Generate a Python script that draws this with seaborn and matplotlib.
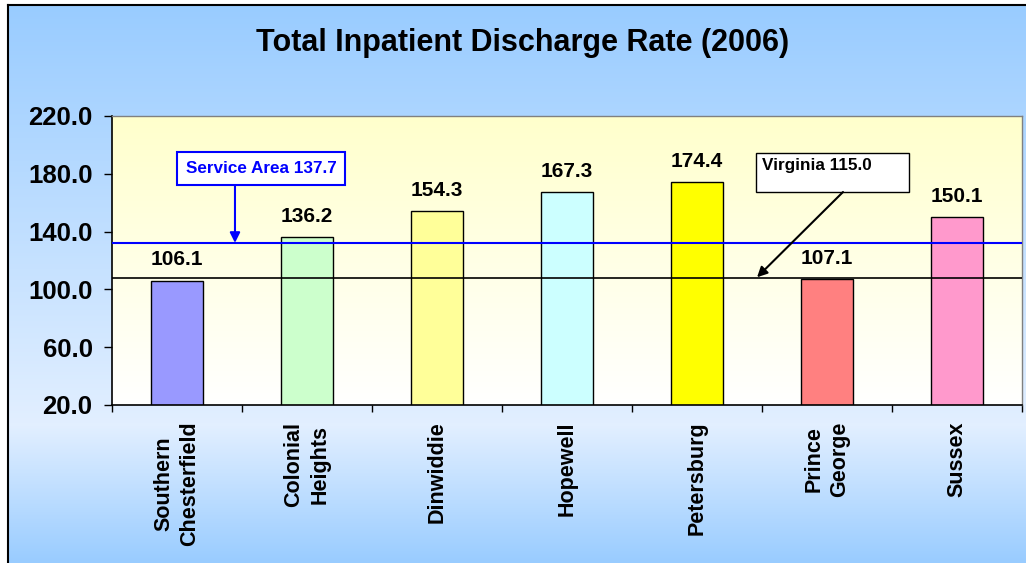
import numpy as np
import matplotlib
matplotlib.use('Agg')
import matplotlib.pyplot as plt
import seaborn as sns
from matplotlib.colors import LinearSegmentedColormap
from matplotlib.patches import Rectangle

categories = ['Southern\nChesterfield', 'Colonial\nHeights', 'Dinwiddie', 'Hopewell',
              'Petersburg', 'Prince\nGeorge', 'Sussex']
rates = [106.1, 136.2, 154.3, 167.3, 174.4, 107.1, 150.1]
bar_colors = ['#9999FF', '#CCFFCC', '#FFFF99', '#CCFFFF', '#FFFF00', '#FF8080', '#FF99CC']
y_ticks = [20, 60, 100, 140, 180, 220]

# reference lines sit where the picture draws them, labels keep the printed values
service_area_line = 132.2
service_area_label = 'Service Area 137.7'
virginia_line = 108.0
virginia_label = 'Virginia 115.0'
title = 'Total Inpatient Discharge Rate (2006)'


def main():
    sns.set_theme(style='white')
    plt.rcParams['font.family'] = ['Liberation Sans', 'DejaVu Sans']
    plt.rcParams['font.weight'] = 'bold'
    plt.rcParams['text.color'] = 'black'
    plt.rcParams['xtick.color'] = 'black'
    plt.rcParams['ytick.color'] = 'black'
    plt.rcParams['axes.labelcolor'] = 'black'

    fig = plt.figure(figsize=(10.26, 5.63), dpi=100)
    fig.patch.set_facecolor('white')

    # blue gradient backdrop with border on left/top
    bg = fig.add_axes([8 / 1026, 0, 1 - 8 / 1026, 1 - 5 / 563], zorder=-5)
    shade = np.concatenate([np.linspace(0, 1, 420), np.linspace(1, 0, 138)])
    bg_cmap = LinearSegmentedColormap.from_list('bg', ['#99CCFF', '#E2EFFF'])
    bg.imshow(shade[:, None], aspect='auto', cmap=bg_cmap, extent=[0, 1, 0, 1])
    bg.set_xticks([])
    bg.set_yticks([])
    bg.spines['right'].set_visible(False)
    bg.spines['bottom'].set_visible(False)
    bg.spines['left'].set_color('black')
    bg.spines['top'].set_color('black')
    bg.spines['left'].set_linewidth(1.5)
    bg.spines['top'].set_linewidth(1.5)

    ax = fig.add_axes([112 / 1026, 1 - 405 / 563, 910 / 1026, 289 / 563])
    ax.patch.set_alpha(0)
    yl_cmap = LinearSegmentedColormap.from_list('yl', ['#FFFFCC', '#FFFFFF'])
    ax.imshow(np.linspace(0, 1, 256)[:, None], cmap=yl_cmap, aspect='auto',
              extent=(-0.5, 6.5, 20, 220), zorder=0)

    sns.barplot(x=categories, y=rates, hue=categories, palette=bar_colors,
                saturation=1, width=0.4, edgecolor='black', linewidth=1,
                legend=False, ax=ax, zorder=2)
    for c in ax.containers:
        ax.bar_label(c, fmt='%.1f', padding=8, fontsize=15, fontweight='bold',
                     color='black')

    ax.axhline(service_area_line, color='#0000FF', lw=1.5, zorder=3)
    ax.axhline(virginia_line, color='black', lw=1.2, zorder=3)

    # service area callout
    ax.add_patch(Rectangle((0.0, 172.2), 1.292, 22.9, fc='white', ec='#0000FF',
                           lw=1.5, zorder=5))
    ax.text(0.646, 183.7, service_area_label, ha='center', va='center',
            color='#0000FF', fontsize=12.3, fontweight='bold', zorder=6)
    ax.annotate('', xy=(0.446, service_area_line), xytext=(0.446, 172.2),
                arrowprops=dict(arrowstyle='-|>', color='#0000FF', lw=1.5,
                                mutation_scale=15, shrinkA=0, shrinkB=0),
                zorder=6)

    # virginia callout
    ax.add_patch(Rectangle((4.454, 167.4), 1.177, 27.0, fc='white', ec='black',
                           lw=1, zorder=5))
    ax.text(4.5, 185.6, virginia_label, ha='left', va='center', color='black',
            fontsize=12.3, fontweight='bold', zorder=6)
    ax.annotate('', xy=(4.462, virginia_line + 0.4), xytext=(5.123, 167.4),
                arrowprops=dict(arrowstyle='-|>', color='black', lw=1.5,
                                mutation_scale=15, shrinkA=0, shrinkB=0),
                zorder=6)

    ax.set_xlim(-0.5, 6.5)
    ax.set_ylim(20, 220)
    ax.set_yticks(y_ticks)
    ax.set_yticklabels([f'{v:.1f}' for v in y_ticks], fontsize=18.5, fontweight='bold')
    ax.tick_params(axis='y', left=True, length=6, width=1, color='black', pad=8)

    ax.set_xticks(range(len(categories)))
    ax.set_xticklabels(categories, rotation=90, fontsize=15.5, fontweight='bold')
    for lbl in ax.get_xticklabels():
        lbl.set_multialignment('center')
        lbl.set_linespacing(1.3)
    ax.tick_params(axis='x', which='major', length=0, pad=12)
    ax.set_xticks(np.arange(-0.5, len(categories), 1), minor=True)
    ax.tick_params(axis='x', which='minor', bottom=True, length=5, width=1, color='black')
    ax.set_xlabel('')
    ax.set_ylabel('')

    for side in ['left', 'bottom']:
        ax.spines[side].set_color('black')
        ax.spines[side].set_linewidth(1.2)
    for side in ['top', 'right']:
        ax.spines[side].set_color('#808080')
        ax.spines[side].set_linewidth(1)

    fig.text(523 / 1026, 1 - 43 / 563, title, ha='center', va='center',
             fontsize=22, fontweight='bold', color='black')

    fig.savefig('out.png', dpi=100)


main()
